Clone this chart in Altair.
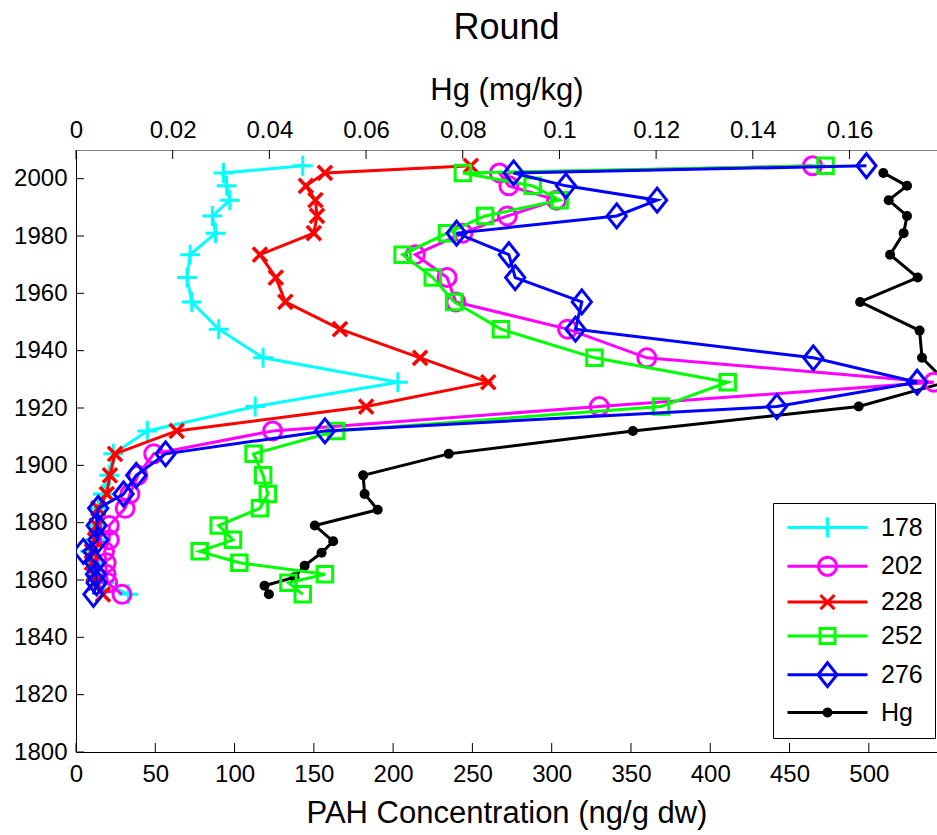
import math
import altair as alt
import pandas as pd

# ---------------- data ----------------
years_pah = [2004.5, 2002, 1997.5, 1992.5, 1987, 1981, 1973.5, 1965.5, 1957, 1947.5,
             1937.5, 1929, 1920.5, 1912, 1904, 1896.5, 1890, 1885, 1879, 1874,
             1870, 1866, 1862, 1859, 1855]
pah_178 = [143, 93, 95, 97, 86, 88, 72, 70, 73, 90, 118, 203, 113, 45, 23.5, 21, 17,
           14, 13, 12, 9, 11, 14, 18, 33]
pah_202 = [464.5, 267, 273, 303, 272, 244, 214, 234, 239.5, 310, 360, 541, 330, 124, 49,
           39, 34, 31, 21, 21, 18, 19, 19, 20, 29]
pah_228 = [249, 157, 145, 151, 152, 150, 116, 126, 132, 166.5, 217, 260, 183, 63.5, 24.6,
           21.4, 19.4, 14, 13, 12, 10, 10, 11, 12, 17]
pah_252 = [472.7, 244, 288, 305, 258, 234, 206, 225, 238.5, 268, 327, 411, 369, 164, 112,
           118, 121, 116, 90, 99, 78, 103, 157, 134, 143]
pah_276 = [498.5, 276, 309, 366.5, 341, 240, 273, 277, 319, 315, 465, 530.5, 442, 157,
           56.5, 38, 30, 14, 13, 14, 4.6, 12, 12.6, 13, 11]

years_hg = [2002, 1997.5, 1992.5, 1987, 1981, 1973.5, 1965.5, 1957, 1947, 1937.5, 1929,
            1920.5, 1912, 1904, 1896.5, 1890, 1884.5, 1879, 1873.5, 1869.5, 1865, 1861,
            1858, 1855]
hg_vals = [0.1670, 0.1719, 0.1681, 0.1719, 0.1712, 0.1684, 0.1741, 0.1622, 0.1745, 0.1750,
           0.1800, 0.1619, 0.1152, 0.0771, 0.0594, 0.0597, 0.0624, 0.0494, 0.0532, 0.0508,
           0.0473, 0.0452, 0.0390, 0.0399]

series_names = ["178", "202", "228", "252", "276", "Hg"]
series_colors = ["#00FFFF", "#FF00FF", "#FF0000", "#00FF00", "#0000FF", "#000000"]

pah_ticks = [0, 50, 100, 150, 200, 250, 300, 350, 400, 450, 500]
hg_ticks = [0, 0.02, 0.04, 0.06, 0.08, 0.1, 0.12, 0.14, 0.16]
year_ticks = [1800, 1820, 1840, 1860, 1880, 1900, 1920, 1940, 1960, 1980, 2000]

# ---------------- layout / style ----------------
W, H = 861, 602
FONT = "Liberation Sans"

pah_scale = alt.Scale(domain=[0, 543], nice=False, zero=False)
hg_scale = alt.Scale(domain=[0, 0.1781], nice=False, zero=False)
y_scale = alt.Scale(domain=[1800, 2010], nice=False, zero=False)

pah_axis = alt.Axis(orient="bottom", values=pah_ticks, format="d", tickSize=0,
                    labelFontSize=24, titleFontSize=31, labelPadding=10, titlePadding=12,
                    domainColor="black", labelColor="black", titleColor="black",
                    titleFontWeight="normal", grid=False, labelFlush=False,
                    title="PAH Concentration (ng/g dw)")
hg_axis = alt.Axis(orient="top", values=hg_ticks, format="~g", tickSize=0,
                   labelFontSize=24, titleFontSize=31, labelPadding=8, titlePadding=12,
                   domainColor="#808080", labelColor="black", titleColor="black",
                   titleFontWeight="normal", grid=False, labelFlush=False,
                   title="Hg (mg/kg)")
y_axis = alt.Axis(values=year_ticks, format="d", tickSize=0, labelFontSize=24,
                  labelPadding=9, domainColor="black", labelColor="black", grid=False,
                  title=None, labelFlush=False)


def circle_path(cx, r, n=36):
    pts = [(cx + r * math.cos(2 * math.pi * k / n), r * math.sin(2 * math.pi * k / n))
           for k in range(n)]
    return "M" + "L".join(f"{x:.4f},{y:.4f}" for x, y in pts) + "Z"


PLUS = "M-1,0L1,0M0,-1L0,1"
XMARK = "M-1,-1L1,1M-1,1L1,-1"
DIAMOND = "M0,-1L0.8,0L0,1L-0.8,0Z"

pah_series = [
    ("178", pah_178, "#00FFFF", PLUS, 400, 3),
    ("202", pah_202, "#FF00FF", "circle", 324, 3),
    ("228", pah_228, "#FF0000", XMARK, 200, 3.5),
    ("252", pah_252, "#00FF00", "square", 240, 3),
    ("276", pah_276, "#0000FF", DIAMOND, 576, 3),
]

y_enc = alt.Y("year:Q", scale=y_scale, axis=y_axis)

pah_layers = []
for name, vals, col, shape, size, sw in pah_series:
    df = pd.DataFrame({"year": years_pah, "val": vals, "i": list(range(len(vals)))})
    base = alt.Chart(df).encode(
        x=alt.X("val:Q", scale=pah_scale, axis=pah_axis),
        y=y_enc,
        order=alt.Order("i:Q"),
    )
    pah_layers.append(base.mark_line(color=col, strokeWidth=3, clip=True))
    pah_layers.append(base.mark_point(shape=shape, size=size, color=col, filled=False,
                                      strokeWidth=sw, opacity=1, clip=True))

# inward ticks
pah_tick_df = pd.DataFrame({"v": pah_ticks})
year_tick_df = pd.DataFrame({"year": year_ticks})
hg_tick_df = pd.DataFrame({"v": hg_ticks})

bottom_ticks = alt.Chart(pah_tick_df).mark_rule(color="black", strokeWidth=1).encode(
    x=alt.X("v:Q", scale=pah_scale, axis=pah_axis), y=alt.value(H), y2=alt.value(H - 9))
left_ticks = alt.Chart(year_tick_df).mark_rule(color="black", strokeWidth=1).encode(
    y=y_enc, x=alt.value(0), x2=alt.value(8))

# legend: native legend, symbols are a line with the marker (unit = 10 px)
CX = 3
LINE = "M-1,0L7,0"
legend_paths = [
    LINE + f"M{CX},-1L{CX},1",
    LINE + circle_path(CX, 0.9),
    LINE + f"M{CX-0.7},-0.7L{CX+0.7},0.7M{CX-0.7},0.7L{CX+0.7},-0.7",
    LINE + f"M{CX-0.75},-0.75L{CX+0.75},-0.75L{CX+0.75},0.75L{CX-0.75},0.75Z",
    LINE + f"M{CX},-1.2L{CX+0.95},0L{CX},1.2L{CX-0.95},0Z",
    LINE + circle_path(CX, 0.35, 24) + circle_path(CX, 0.12, 12),
]
legend_df = pd.DataFrame({"name": series_names})
legend_layer = alt.Chart(legend_df).transform_filter("datum.name == 'none'").mark_point(
    filled=False, strokeWidth=3, opacity=1).encode(
    color=alt.Color("name:N", scale=alt.Scale(domain=series_names, range=series_colors),
                    legend=alt.Legend(title=None, orient="none", legendX=697, legendY=353,
                                      symbolSize=400, symbolStrokeWidth=3,
                                      symbolOpacity=1, labelFontSize=25,
                                      labelFont=FONT, labelColor="black",
                                      labelOffset=71, rowPadding=6.8,
                                      strokeColor="black", fillColor="white",
                                      padding=12, symbolType="circle")),
    shape=alt.Shape("name:N", scale=alt.Scale(domain=series_names, range=legend_paths)),
)

pah_group = alt.layer(left_ticks, bottom_ticks, *pah_layers, legend_layer)

hg_df = pd.DataFrame({"year": years_hg, "hg": hg_vals, "i": list(range(len(hg_vals)))})
hg_base = alt.Chart(hg_df).encode(
    x=alt.X("hg:Q", scale=hg_scale, axis=hg_axis),
    y=y_enc,
    order=alt.Order("i:Q"),
)
hg_line = hg_base.mark_line(color="black", strokeWidth=3, clip=True)
hg_pts = hg_base.mark_point(shape="circle", size=100, color="black", filled=True,
                            opacity=1, clip=True)
top_ticks = alt.Chart(hg_tick_df).mark_rule(color="black", strokeWidth=1).encode(
    x=alt.X("v:Q", scale=hg_scale, axis=hg_axis), y=alt.value(0), y2=alt.value(9))
hg_group = alt.layer(top_ticks, hg_line, hg_pts)

chart = alt.layer(hg_group, pah_group).resolve_scale(x="independent").resolve_axis(
    x="independent"
).properties(
    width=W, height=H,
    title=alt.Title("Round", fontSize=36, font=FONT, fontWeight="normal", color="black",
                    anchor="middle", offset=27),
    autosize=alt.AutoSizeParams(type="none"),
    padding={"left": 76, "top": 150, "right": 0, "bottom": 83},
).configure(font=FONT).configure_view(stroke=None).configure_axis(
    labelFont=FONT, titleFont=FONT, domainWidth=1
)

chart.save("out.html", embed_options={"renderer": "svg", "actions": False})
